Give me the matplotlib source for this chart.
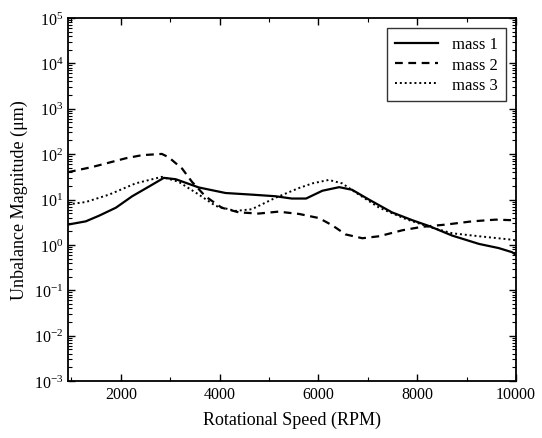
import matplotlib
matplotlib.use("Agg")
import matplotlib.pyplot as plt
from matplotlib.ticker import LogLocator, FixedLocator, NullFormatter

plt.rcParams['font.family'] = ['Liberation Serif', 'DejaVu Serif']
plt.rcParams['mathtext.fontset'] = 'stix'

# mass 1 (solid)
rpm1 = [930, 1290, 1560, 1900, 2230, 2570, 2870, 3110, 3580, 4120, 4650, 5130, 5460,
        5750, 6080, 6420, 6680, 7020, 7490, 7900, 8240, 8710, 9250, 9650, 9920, 10000]
mass1 = [2.8, 3.3, 4.4, 6.6, 11.8, 19.3, 30, 28, 18.4, 13.9, 12.8, 11.8, 10.5,
         10.5, 15.6, 18.7, 16.4, 10, 5.2, 3.5, 2.6, 1.6, 1.05, 0.85, 0.69, 0.6]

# mass 2 (dashed)
rpm2 = [930, 1420, 2100, 2430, 2830, 2970, 3240, 3440, 3710, 4040, 4390, 4790, 5190,
        5610, 6010, 6280, 6550, 6890, 7230, 7700, 8100, 8580, 9110, 9590, 9920, 10000]
mass2 = [40, 52, 81, 95, 101, 85, 48, 24.5, 11.8, 6.6, 5.2, 4.9, 5.4,
         4.8, 3.9, 2.7, 1.7, 1.4, 1.55, 2.1, 2.5, 2.8, 3.3, 3.6, 3.5, 3.5]

# mass 3 (dotted)
rpm3 = [930, 1290, 1760, 2300, 2830, 3170, 3580, 3920, 4320, 4650, 5130, 5600, 5880,
        6210, 6480, 6820, 7230, 7770, 8240, 8710, 9250, 9920, 10000]
mass3 = [7.8, 8.8, 12.8, 22.7, 31.6, 24.5, 12.8, 7.2, 5.6, 6.1, 10.9, 17.8, 22.7,
         27, 22.7, 12.8, 6.6, 3.7, 2.5, 1.8, 1.55, 1.3, 1.25]

xticks = [2000, 4000, 6000, 8000, 10000]
xminor = [1000, 3000, 5000, 7000, 9000]

fig = plt.figure(figsize=(5.42, 4.39), dpi=100)
ax = fig.add_axes([68/542, 1-382/439, (516-68)/542, (382-19)/439])

ax.plot(rpm1, mass1, color='black', lw=1.6, ls='-', label='mass 1')
ax.plot(rpm2, mass2, color='black', lw=1.6, ls=(0, (3.5, 2.5)), label='mass 2')
ax.plot(rpm3, mass3, color='black', lw=1.4, ls=(0, (1, 1.5)), label='mass 3')

ax.set_yscale('log')
ax.set_ylim(1e-3, 1e5)
ax.set_xlim(930, 10000)
ax.set_xticks(xticks)
ax.set_xticklabels([str(t) for t in xticks])
ax.xaxis.set_minor_locator(FixedLocator(xminor))
ax.yaxis.set_major_locator(LogLocator(base=10, numticks=20))
ax.yaxis.set_minor_locator(LogLocator(base=10, subs=range(2, 10), numticks=100))
ax.yaxis.set_minor_formatter(NullFormatter())

ax.tick_params(which='both', direction='in', top=True, right=True, labelsize=11.5)
ax.tick_params(which='major', length=5, width=1)
ax.tick_params(which='minor', length=3, width=0.8)
for s in ax.spines.values():
    s.set_linewidth(1.3)

ax.set_xlabel('Rotational Speed (RPM)', fontsize=13, labelpad=6)
ax.set_ylabel('Unbalance Magnitude (μm)', fontsize=13, labelpad=4)

leg = ax.legend(loc='upper right', fontsize=12, frameon=True, fancybox=False,
                edgecolor='black', handlelength=2.6, borderpad=0.5,
                labelspacing=0.25, borderaxespad=0.6)
leg.get_frame().set_linewidth(1.0)

fig.savefig('out.png', dpi=100)
